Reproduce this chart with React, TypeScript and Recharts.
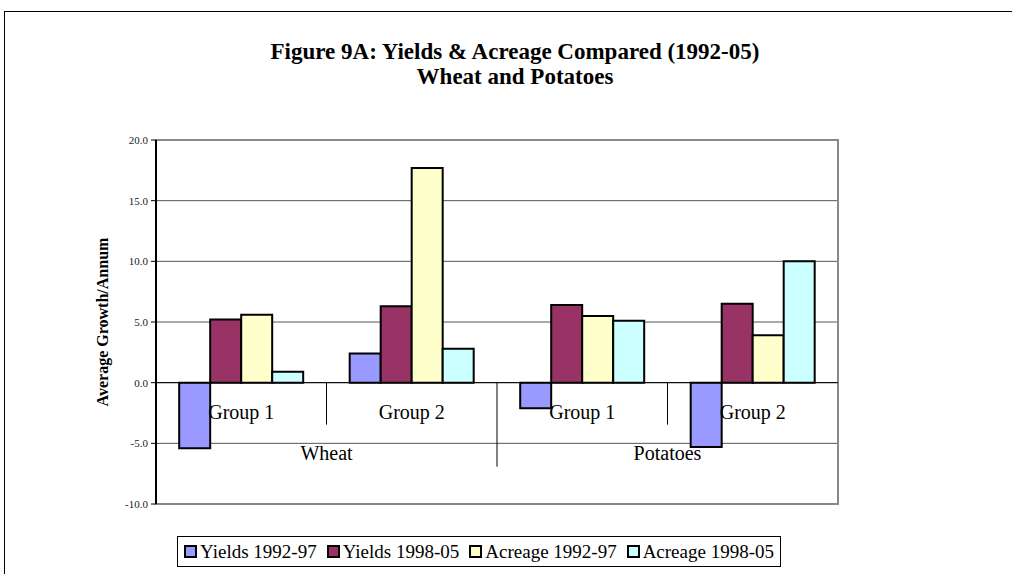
import { BarChart, Bar, XAxis, YAxis, CartesianGrid, ReferenceLine, ReferenceArea } from "recharts";

const crops = ["Wheat", "Potatoes"];
const groups = ["Group 1", "Group 2", "Group 1", "Group 2"];
const yields9297 = [-5.4, 2.4, -2.1, -5.3];
const yields9805 = [5.2, 6.3, 6.4, 6.5];
const acreage9297 = [5.6, 17.7, 5.5, 3.9];
const acreage9805 = [0.9, 2.8, 5.1, 10.0];
const yTicks = [-10, -5, 0, 5, 10, 15, 20];

const series = [
  { key: "y9297", name: "Yields 1992-97", color: "#9999FF", values: yields9297 },
  { key: "y9805", name: "Yields 1998-05", color: "#993366", values: yields9805 },
  { key: "a9297", name: "Acreage 1992-97", color: "#FFFFCC", values: acreage9297 },
  { key: "a9805", name: "Acreage 1998-05", color: "#CCFFFF", values: acreage9805 },
];

const data = groups.map((g, i) => {
  const row: Record<string, string | number> = { id: i, group: g };
  series.forEach((s) => (row[s.key] = s.values[i]));
  return row;
});

const FONT = "'Liberation Serif', 'DejaVu Serif', serif";

// draws the zero line plus the two-level category labels hanging under it
const ZeroAxis = (props: any) => {
  const { x1, x2, y1 } = props;
  const band = (x2 - x1) / groups.length;
  const perCrop = groups.length / crops.length;
  return (
    <g>
      <line x1={x1} x2={x2} y1={y1} y2={y1} stroke="#000" strokeWidth={1} />
      {groups.map((g, i) => (
        <text key={"g" + i} x={x1 + band * (i + 0.5)} y={y1 + 36} textAnchor="middle" style={{ fontFamily: FONT, fontSize: 20 }} fill="#000">
          {g}
        </text>
      ))}
      {groups.map((_, i) =>
        i > 0 ? (
          <line key={"s" + i} x1={x1 + band * i} x2={x1 + band * i} y1={y1} y2={y1 + (i % perCrop === 0 ? 84 : 42)} stroke="#000" />
        ) : null
      )}
      {crops.map((c, i) => (
        <text key={"c" + i} x={x1 + band * perCrop * (i + 0.5)} y={y1 + 77} textAnchor="middle" style={{ fontFamily: FONT, fontSize: 20 }} fill="#000">
          {c}
        </text>
      ))}
    </g>
  );
};

const YTick = (props: any) => {
  const { x, y, payload } = props;
  return (
    <text x={x} y={y} dy={4} textAnchor="end" style={{ fontFamily: FONT, fontSize: 11 }} fill="#222">
      {Number(payload.value).toFixed(1)}
    </text>
  );
};

export default function App() {
  return (
    <div style={{ position: "absolute", left: 0, top: 0, width: 1012, height: 574, overflow: "hidden", background: "#fff", fontFamily: FONT }}>
      <div style={{ position: "absolute", left: 4, top: 11, width: 1100, height: 700, borderLeft: "1px solid #000", borderTop: "1px solid #000" }} />
      <div style={{ position: "absolute", left: 0, width: 1030, top: 39, textAlign: "center", fontWeight: "bold", fontSize: 23, lineHeight: "25px" }}>
        Figure 9A: Yields &amp; Acreage Compared (1992-05)
        <br />
        Wheat and Potatoes
      </div>
      <div style={{ position: "absolute", top: 0, left: 0 }}>
        <BarChart width={1012} height={574} data={data} margin={{ top: 140, right: 174, bottom: 70, left: 90 }} barCategoryGap="13.6%" barGap={0}>
          <CartesianGrid vertical={false} stroke="#555" />
          <ReferenceArea y1={-10} y2={20} fill="none" stroke="#888" strokeWidth={2} />
          <XAxis dataKey="id" hide />
          <YAxis
            domain={[-10, 20]}
            ticks={yTicks}
            width={66}
            tick={YTick}
            tickSize={5}
            tickMargin={3}
            axisLine={{ stroke: "#000", strokeWidth: 2 }}
            tickLine={{ stroke: "#000" }}
            label={{ value: "Average Growth/Annum", angle: -90, position: "insideLeft", offset: 12, style: { textAnchor: "middle", fontWeight: "bold", fontSize: 16, fontFamily: FONT, fill: "#000" } }}
          />
          <ReferenceLine y={0} shape={ZeroAxis} />
          {series.map((s) => (
            <Bar key={s.key} dataKey={s.key} name={s.name} fill={s.color} stroke="#000" strokeWidth={2} isAnimationActive={false} />
          ))}
        </BarChart>
      </div>
      <div style={{ position: "absolute", left: 177, top: 536, width: 604, height: 31, boxSizing: "border-box", paddingLeft: 6, border: "1px solid #000", display: "flex", alignItems: "center", gap: 10, fontSize: 19, whiteSpace: "nowrap" }}>
        {series.map((s) => (
          <span key={s.key} style={{ display: "flex", alignItems: "center" }}>
            <span style={{ width: 9, height: 9, background: s.color, border: "2px solid #000", marginRight: 3 }} />
            {s.name}
          </span>
        ))}
      </div>
    </div>
  );
}
